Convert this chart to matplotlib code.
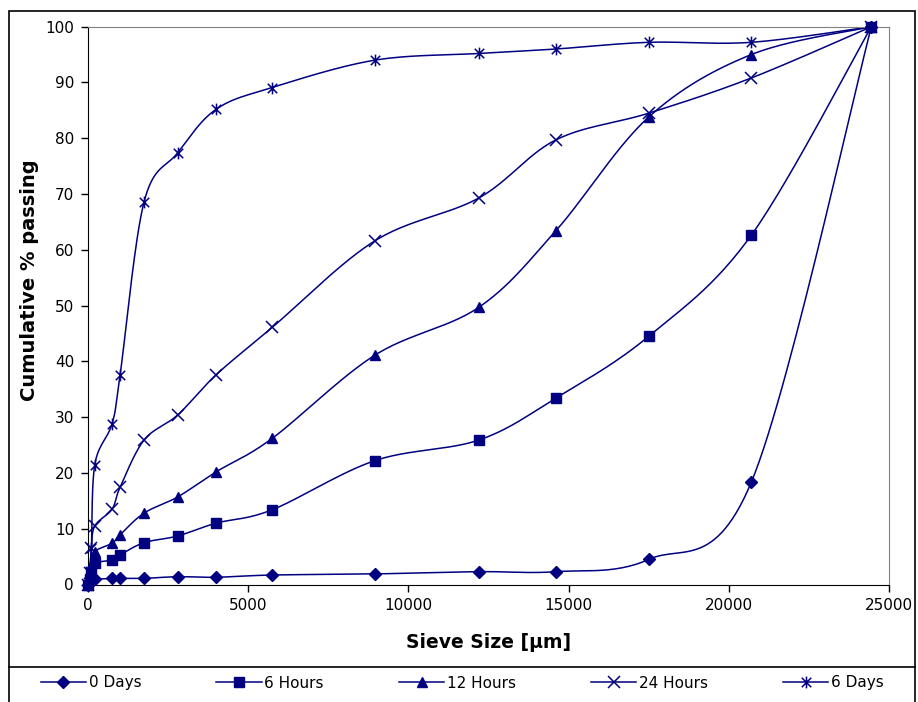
import numpy as np
import matplotlib
matplotlib.use("Agg")
import matplotlib.pyplot as plt
from matplotlib.lines import Line2D
from matplotlib.path import Path
from matplotlib.patches import Rectangle

plt.rcParams["font.family"] = ["DejaVu Sans"]

# sieve sizes (um) and cumulative % passing for each soaking time
sieve = [0, 53, 106, 212, 750, 1000, 1750, 2800, 4000, 5750, 8950,
         12200, 14600, 17500, 20700, 24450]
days0 = [0, 0.3, 0.6, 0.9, 1.1, 1.1, 1.1, 1.4, 1.3, 1.7, 1.9,
         2.3, 2.3, 4.5, 18.3, 100]
hours6 = [0, 1.0, 2.0, 3.8, 4.4, 5.3, 7.5, 8.7, 11.0, 13.4, 22.2,
          25.9, 33.4, 44.5, 62.6, 100]
hours12 = [0, 1.5, 3.5, 5.9, 7.4, 8.9, 12.8, 15.7, 20.2, 26.2, 41.1,
           49.7, 63.4, 83.8, 95.0, 100]
hours24 = [0, 2.0, 6.5, 10.5, 13.5, 17.4, 25.9, 30.4, 37.6, 46.1, 61.6,
           69.3, 79.7, 84.5, 90.8, 100]
days6 = [0, 2.5, 6.5, 21.5, 28.8, 37.5, 68.6, 77.4, 85.2, 89.1, 94.0,
         95.2, 96.0, 97.2, 97.2, 100]

labels = ["0 Days", "6 Hours", "12 Hours", "24 Hours", "6 Days"]
series = [days0, hours6, hours12, hours24, days6]

NAVY = "#000080"

# excel-like asterisk: X plus a vertical bar
ast = Path([(-1, -1), (1, 1), (-1, 1), (1, -1), (0, -1.25), (0, 1.25)],
           [Path.MOVETO, Path.LINETO, Path.MOVETO, Path.LINETO, Path.MOVETO, Path.LINETO])
markers = [("D", 6.5, 1), ("s", 6.5, 1), ("^", 7.5, 1), ("x", 8.0, 1.1), (ast, 8.5, 1.1)]


def smooth(x, y, n=30):
    # cubic bezier through the points, control points like excel's smoothed line
    p = np.column_stack([x, y]).astype(float)
    ext = np.vstack([p[0], p, p[-1]])
    out = []
    t = np.linspace(0, 1, n)[:, None]
    for i in range(len(p) - 1):
        p0, p1, p2, p3 = ext[i], ext[i + 1], ext[i + 2], ext[i + 3]
        c1 = p1 + (p2 - p0) / 6
        c2 = p2 - (p3 - p1) / 6
        seg = ((1 - t) ** 3) * p1 + 3 * ((1 - t) ** 2) * t * c1 + 3 * (1 - t) * t ** 2 * c2 + t ** 3 * p2
        out.append(seg if i == 0 else seg[1:])
    out = np.vstack(out)
    return out[:, 0], out[:, 1]


fig = plt.figure(figsize=(9.18, 7.02), dpi=100)
ax = fig.add_axes([88 / 918, 1 - 584.5 / 702, 801 / 918, 557.8 / 702])

handles = []
for vals, lab, (m, ms, mew) in zip(series, labels, markers):
    sx, sy = smooth(sieve, vals)
    ax.plot(sx, sy, color=NAVY, lw=1.1, clip_on=False, zorder=2)
    ax.plot(sieve, vals, ls="none", marker=m, ms=ms, mew=mew, color=NAVY,
            mfc=NAVY, mec=NAVY, clip_on=False, zorder=3)
    handles.append(Line2D([], [], color=NAVY, lw=1.1, marker=m, ms=ms, mew=mew,
                          mfc=NAVY, mec=NAVY))

ax.set_xlim(0, 25000)
ax.set_ylim(0, 100)
ax.set_xticks(np.arange(0, 25001, 5000))
ax.set_yticks(np.arange(0, 101, 10))
ax.tick_params(direction="out", length=5, width=1, labelsize=11, pad=5, color="black")
for s in ("top", "right"):
    ax.spines[s].set_color("#808080")
for s in ("left", "bottom"):
    ax.spines[s].set_color("black")
ax.set_xlabel("Sieve Size [\u03bcm]", fontsize=13.5, fontweight="bold")
ax.set_ylabel("Cumulative % passing", fontsize=14, fontweight="bold")
ax.xaxis.label.set_va("center")
ax.yaxis.label.set_va("center")
ax.xaxis.set_label_coords(0.5, (584.5 - 643) / 557.8)
ax.yaxis.set_label_coords((30 - 88) / 801, (584.5 - 280) / 557.8)

# chart frame and legend box
fig.patches.append(Rectangle((9 / 918, -0.01), 906 / 918, 1 - 11 / 702 + 0.01,
                             transform=fig.transFigure, fill=False, ec="black", lw=1.2))
fig.lines.append(Line2D([9 / 918, 915 / 918], [1 - 667 / 702, 1 - 667 / 702],
                        transform=fig.transFigure, color="black", lw=1.2))

fig.legend(handles, labels, loc="center", ncol=5,
           bbox_to_anchor=(462 / 918, 1 - 683 / 702),
           frameon=False, fontsize=11, handlelength=3.0, handletextpad=0.15,
           columnspacing=4.9, borderaxespad=0, borderpad=0)

fig.savefig("out.png", dpi=100)
